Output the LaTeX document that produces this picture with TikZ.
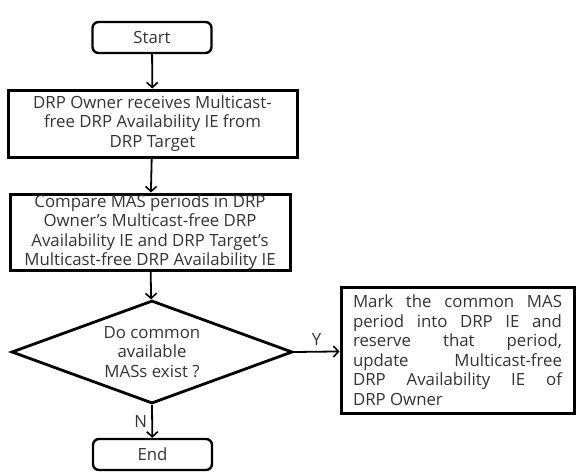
\documentclass[tikz,border=0pt]{standalone}
\usepackage{fontspec}
\setmainfont{Open Sans}
\usetikzlibrary{shapes.geometric,arrows.meta}
\begin{document}
\begin{tikzpicture}[x=1pt,y=-1pt,every node/.style={font=\fontsize{16.8}{19.5}\selectfont,text=black!80},
  term/.style={draw=black,line width=2.4pt,rounded corners=6pt,minimum width=119pt,minimum height=31pt,inner sep=0pt},
  proc/.style={draw=black,line width=3pt,align=center,inner sep=0pt},
  cond/.style={draw=black,line width=2.8pt,diamond,shape aspect=2.7,minimum width=281pt,minimum height=103pt,inner sep=0pt,align=center},
  flow/.style={-{Straight Barb[length=5pt,width=11pt,line width=1.6pt]},line width=1.8pt}]
\useasboundingbox (0,0) rectangle (579,472);
\node[term] (start) at (152,37.5) {Start};
\node[proc,minimum width=289pt,minimum height=67pt] (recv) at (152.5,123.5) {DRP Owner receives Multicast-\\free DRP Availability IE from\\DRP Target};
\node[proc,minimum width=280pt,minimum height=76pt] (cmp) at (150,232) {Compare MAS periods in DRP\\Owner's Multicast-free DRP\\Availability IE and DRP Target's\\Multicast-free DRP Availability IE};
\node[cond] (dec) at (152,352) {Do common\\available\\MASs exist ?};
\node[proc,minimum width=233pt,minimum height=126pt,text width=209pt,align=justify] (mark) at (457.5,350) {Mark the common MAS\linebreak period into DRP IE and\linebreak reserve that period,\linebreak update Multicast-free\linebreak DRP Availability IE of\linebreak DRP Owner};
\node[term] (end) at (152.5,454.5) {End};
% main flow
\draw[flow] (start) -- (recv); \draw[flow] (recv) -- (cmp); \draw[flow] (cmp) -- (dec);
\draw[flow] (dec.east) -- (mark) node[midway,above=2pt] (yes) {Y};
\draw[flow] (dec.south) -- (end) node[midway,left=1pt] (no) {N};
\end{tikzpicture}
\end{document}
